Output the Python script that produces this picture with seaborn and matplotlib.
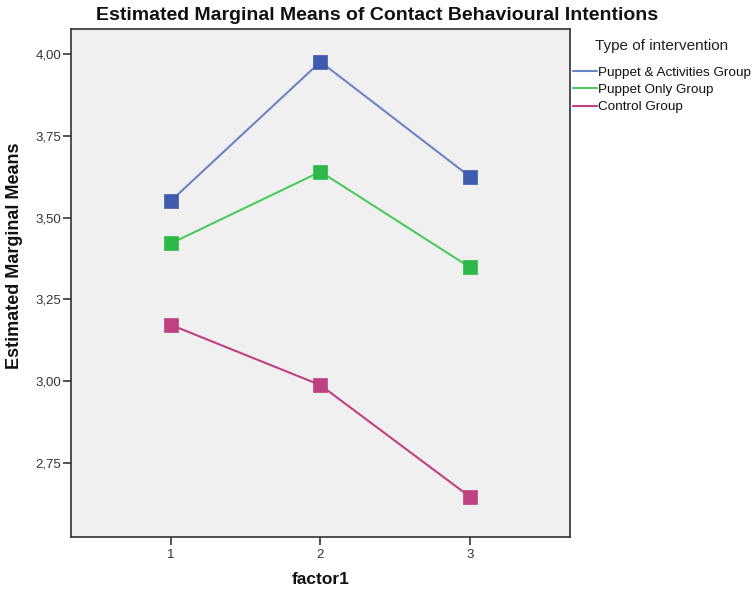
import matplotlib
matplotlib.use("Agg")
import matplotlib.pyplot as plt
import seaborn as sns
import pandas as pd
from matplotlib.lines import Line2D

factor_levels = [1, 2, 3]
groups = ["Puppet & Activities Group", "Puppet Only Group", "Control Group"]
puppet_activities = [3.551, 3.976, 3.625]
puppet_only = [3.421, 3.640, 3.348]
control = [3.172, 2.988, 2.647]
y_ticks = [2.75, 3.00, 3.25, 3.50, 3.75, 4.00]
y_tick_labels = ["2,75", "3,00", "3,25", "3,50", "3,75", "4,00"]

line_colors = ["#6B84C6", "#4CC95F", "#C2407F"]
marker_colors = ["#3F5BAE", "#2DB84A", "#C0417F"]

rows = []
for g, vals in zip(groups, [puppet_activities, puppet_only, control]):
    for f, v in zip(factor_levels, vals):
        rows.append({"factor1": f, "mean": v, "group": g})
df = pd.DataFrame(rows)

sns.set_theme(style="white")
plt.rcParams["font.family"] = ["Liberation Sans", "DejaVu Sans"]

W, H = 754, 597
fig = plt.figure(figsize=(W / 100, H / 100), dpi=100)
ax = fig.add_axes([71 / W, 1 - 537 / H, (570 - 71) / W, (537 - 29) / H])
ax.set_facecolor("#F0F0F0")

sns.lineplot(data=df, x="factor1", y="mean", hue="group", hue_order=groups,
             palette=line_colors, linewidth=1.5, legend=False, ax=ax)
for g, mc in zip(groups, marker_colors):
    sub = df[df.group == g]
    sns.scatterplot(data=sub, x="factor1", y="mean", color=mc, marker="s",
                    s=115, edgecolor=mc, linewidth=0.5, ax=ax, legend=False, zorder=3)

ax.set_xlim(0.331, 3.67)
ax.set_ylim(2.524, 4.076)
ax.set_xticks(factor_levels)
ax.set_xticklabels([str(f) for f in factor_levels])
ax.set_yticks(y_ticks)
ax.set_yticklabels(y_tick_labels)
ax.tick_params(axis="both", direction="out", length=6, width=1.2, color="#333333",
               labelsize=9.5, labelcolor="#333333", left=True, bottom=True)
ax.tick_params(axis="y", pad=1)
ax.tick_params(axis="x", pad=3)
for s in ax.spines.values():
    s.set_color("#333333")
    s.set_linewidth(1.2)

ax.set_xlabel("factor1", fontsize=12.5, fontweight="bold", color="#111111")
ax.set_ylabel("Estimated Marginal Means", fontsize=13, fontweight="bold", color="#111111")
ax.xaxis.set_label_coords(0.5, (537 - 580) / 508)
ax.xaxis.label.set_va("center")
ax.yaxis.set_label_coords((15 - 71) / 499, (537 - 256) / 508)
ax.yaxis.label.set_va("center")

fig.text(0.5, 1 - 16 / H, "Estimated Marginal Means of Contact Behavioural Intentions",
         ha="center", va="center", fontsize=14, fontweight="bold", color="#111111")

fig.text(661.5 / W, 1 - 46 / H, "Type of intervention", ha="center", va="center",
         fontsize=11, color="#222222")
handles = [Line2D([0], [0], color=c, lw=1.5) for c in line_colors]
leg = fig.legend(handles, groups, loc="upper left", bbox_to_anchor=(573 / W, 1 - 66.5 / H),
                 frameon=False, fontsize=9.7, handlelength=1.75, handletextpad=0.12,
                 labelspacing=0.35, borderaxespad=0, borderpad=0)
for t in leg.get_texts():
    t.set_color("#111111")

fig.savefig("out.png", dpi=100)
